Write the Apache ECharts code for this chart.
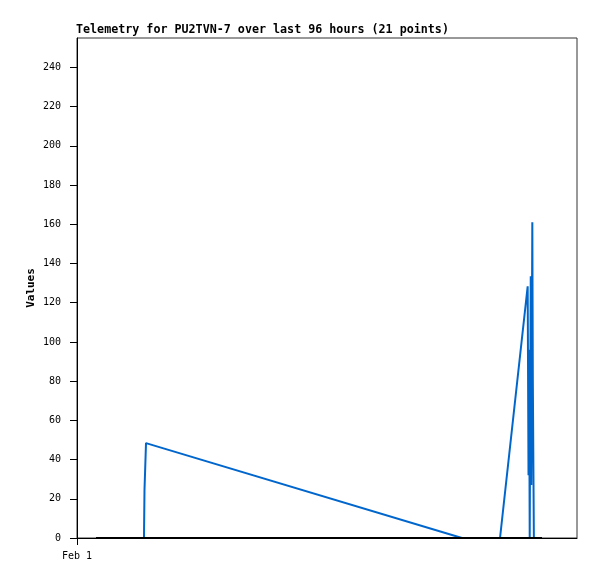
<!DOCTYPE html>
<html><head><meta charset="utf-8">
<script src="https://cdn.jsdelivr.net/npm/echarts@6/dist/echarts.min.js"></script>
<style>html,body{margin:0;padding:0;background:#fff}#c{width:597px;height:579px}</style>
</head><body><div id="c"></div>
<script>
// hours since Feb 1 00:00
const hours = [3.65, 6.34, 9.22, 12.86, 12.96, 13.25, 73.92, 77.38, 81.22, 86.53, 86.69, 86.80, 86.92, 87.12, 87.22, 87.42, 87.52, 87.72, 88.51, 89.28, 89.28];
const values = [0, 0, 0, 0, 24.5, 48.4, 0, 0, 0, 128.4, 32, 96, 0, 133.5, 27, 161, 80, 0, 0, 0, 0];
const baseline = [0, 0, 0, 0, 0, 0, 0, 0, 0, 0, 0, 0, 0, 0, 0, 0, 0, 0, 0, 0, 0];
const xTickLabels = {0: 'Feb 1'};
const yTicks = [0, 20, 40, 60, 80, 100, 120, 140, 160, 180, 200, 220, 240];
const title = 'Telemetry for PU2TVN-7 over last 96 hours (21 points)';

const mono = '"DejaVu Sans Mono", "Liberation Mono", monospace';
const chart = echarts.init(document.getElementById('c'), null, {renderer: 'canvas'});
chart.setOption({
  animation: false,
  backgroundColor: '#fff',
  title: {text: title, left: 76, top: 24, padding: 0,
    textStyle: {fontFamily: mono, fontSize: 11.7, fontWeight: 'bold', color: '#000'}},
  grid: {left: 77, top: 38, width: 500, height: 500, show: true, borderColor: '#333', borderWidth: 1, backgroundColor: 'transparent'},
  xAxis: {type: 'value', min: 0, max: 96,
    axisLine: {show: true, onZero: false, lineStyle: {color: '#000', width: 1}},
    axisTick: {show: true, length: 7, customValues: [0], lineStyle: {color: '#000'}},
    axisLabel: {customValues: [0], margin: 13, fontFamily: mono, fontSize: 10, color: '#000',
      formatter: v => xTickLabels[v] || ''},
    splitLine: {show: false}},
  yAxis: {type: 'value', min: 0, max: 255, interval: 20, name: 'Values', nameLocation: 'middle', nameGap: 40, nameRotate: 90,
    nameMoveOverlap: false,
    nameTextStyle: {fontFamily: mono, fontSize: 11, fontWeight: 'bold', color: '#000'},
    axisLine: {show: true, lineStyle: {color: '#000', width: 1}},
    axisTick: {show: true, length: 7, customValues: yTicks, lineStyle: {color: '#000'}},
    axisLabel: {customValues: yTicks, margin: 16, fontFamily: mono, fontSize: 10, color: '#000'},
    splitLine: {show: false}},
  series: [
    {type: 'line', data: hours.map((h, i) => [h, values[i]]), symbol: 'none', z: 2,
      lineStyle: {color: '#0066cc', width: 2}},
    {type: 'line', data: hours.map((h, i) => [h, baseline[i]]), symbol: 'none', z: 3,
      lineStyle: {color: '#000', width: 2}}
  ]
});
</script></body></html>
